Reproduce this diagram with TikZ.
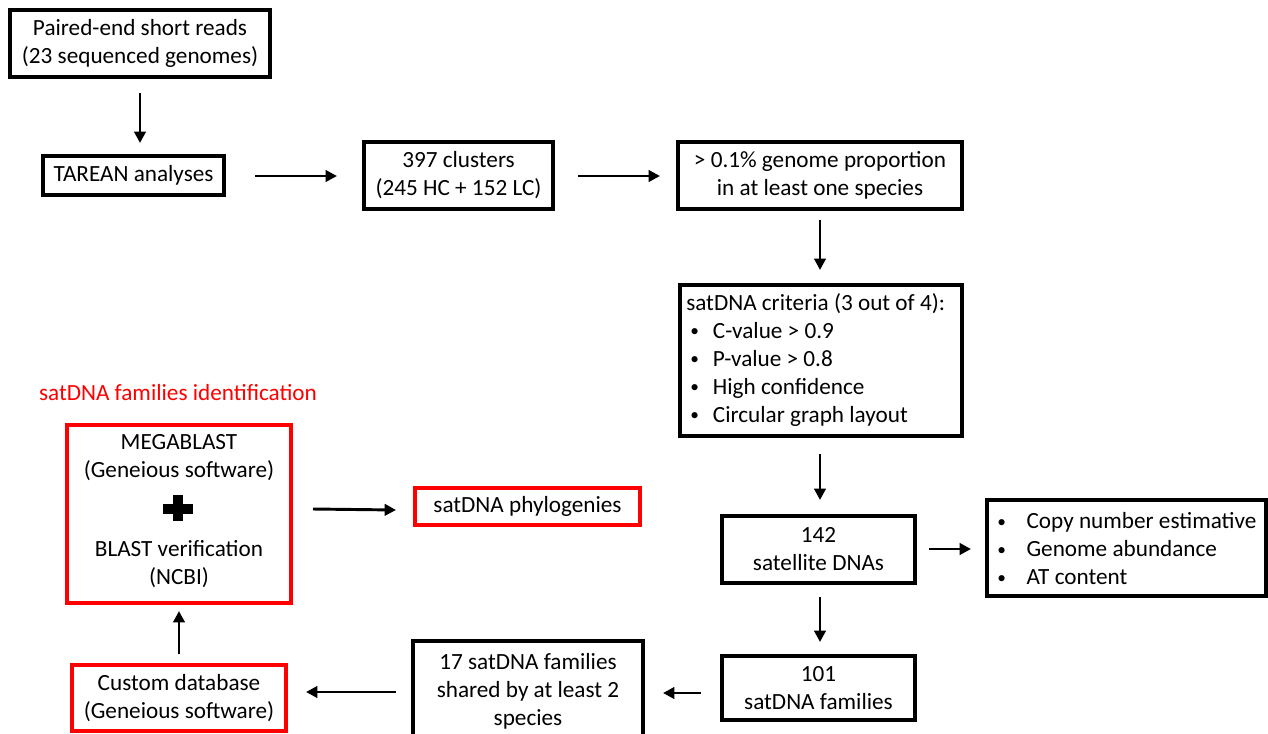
\documentclass[tikz,border=0pt]{standalone}
\usepackage{fontspec}
\setmainfont{Carlito}
\usetikzlibrary{arrows.meta}
\definecolor{boxred}{RGB}{255,0,0}
\newcommand{\smbul}{\raisebox{1.2pt}{\fontsize{13}{13}\selectfont\textbullet}}
\begin{document}
\begin{tikzpicture}[x=0.75pt,y=-0.75pt,
  every node/.style={font=\fontsize{17.4}{21}\selectfont, inner sep=0pt},
  blk/.style={draw=black, line width=2.3pt, align=center},
  redbox/.style={draw=boxred, line width=2.3pt, align=center},
  arr/.style={line width=2.2pt, -{Triangle[length=8.5pt,width=8.5pt]}}]
\useasboundingbox (0,0) rectangle (1268,733);
% boxes
\node[blk, minimum width=260*0.75pt, minimum height=67*0.75pt] (reads) at (140,43.5) {Paired-end short reads\\(23 sequenced genomes)};
\node[blk, minimum width=181*0.75pt, minimum height=39*0.75pt] (tarean) at (133.5,175.5) {TAREAN analyses};
\node[blk, minimum width=189*0.75pt, minimum height=67*0.75pt] (clusters) at (458.5,175.5) {397 clusters\\(245 HC + 152 LC)};
\node[blk, minimum width=284*0.75pt, minimum height=67*0.75pt] (prop) at (820,175.5) {> 0.1\% genome proportion\\in at least one species};
\node[draw=black, line width=2.3pt, minimum width=282*0.75pt, minimum height=151*0.75pt] (crit) at (821,360.5) {};
\node[anchor=west, align=left] (crittext) at (686,360) {satDNA criteria (3 out of 4):\\
\makebox[20pt][l]{\hspace{3pt}\smbul}C-value > 0.9\\
\makebox[20pt][l]{\hspace{3pt}\smbul}P-value > 0.8\\
\makebox[20pt][l]{\hspace{3pt}\smbul}High confidence\\
\makebox[20pt][l]{\hspace{3pt}\smbul}Circular graph layout};
\node[blk, minimum width=193*0.75pt, minimum height=67*0.75pt] (sat142) at (818.5,549.5) {142\\satellite DNAs};
\node[draw=black, line width=2.3pt, minimum width=279*0.75pt, minimum height=96*0.75pt] (feat) at (1126.5,548) {};
\node[anchor=west, align=left] (feattext) at (997,549) {\makebox[22pt][l]{\smbul}Copy number estimative\\
\makebox[22pt][l]{\smbul}Genome abundance\\
\makebox[22pt][l]{\smbul}AT content};
\node[blk, minimum width=193*0.75pt, minimum height=64*0.75pt] (fam101) at (818.5,688) {101\\satDNA families};
\node[blk, minimum width=230*0.75pt, minimum height=100*0.75pt] (fam17) at (528,691) {17 satDNA families\\shared by at least 2\\species};
\node[redbox, minimum width=214*0.75pt, minimum height=66*0.75pt] (custom) at (179,698) {Custom database\\(Geneious software)};
\node[redbox, minimum width=224*0.75pt, minimum height=178*0.75pt] (mega) at (179,514) {};
\node[align=center] (megat1) at (179,458) {MEGABLAST\\(Geneious software)};
\node[align=center] (megat2) at (179,564) {BLAST verification\\(NCBI)};
\fill (163,503.5) rectangle (193,513.5);
\fill (173,495) rectangle (183,521);
\node[redbox, minimum width=225*0.75pt, minimum height=37*0.75pt] (phylo) at (527.5,506.5) {satDNA phylogenies};
\node[text=boxred] (title) at (178,393) {satDNA families identification};
% arrows
\coordinate (a1s) at (140,93); \coordinate (a1e) at (140,143);
\draw[arr] (a1s) -- (a1e);
\coordinate (a2s) at (255,176); \coordinate (a2e) at (337,176);
\draw[arr] (a2s) -- (a2e);
\coordinate (a3s) at (578,176); \coordinate (a3e) at (660,176);
\draw[arr] (a3s) -- (a3e);
\coordinate (a4s) at (820,220); \coordinate (a4e) at (820,270);
\draw[arr] (a4s) -- (a4e);
\coordinate (a5s) at (820,454); \coordinate (a5e) at (820,500);
\draw[arr] (a5s) -- (a5e);
\coordinate (a6s) at (929,549); \coordinate (a6e) at (971,549);
\draw[arr] (a6s) -- (a6e);
\coordinate (a7s) at (820,597); \coordinate (a7e) at (820,642);
\draw[arr] (a7s) -- (a7e);
\coordinate (a8s) at (701,693); \coordinate (a8e) at (663,693);
\draw[arr] (a8s) -- (a8e);
\coordinate (a9s) at (396,692); \coordinate (a9e) at (306,692);
\draw[arr] (a9s) -- (a9e);
\coordinate (a10s) at (179,654); \coordinate (a10e) at (179,611);
\draw[arr] (a10s) -- (a10e);
\coordinate (a11s) at (313,509); \coordinate (a11e) at (396,510);
\draw[arr] (a11s) -- (a11e);
\end{tikzpicture}
\end{document}
